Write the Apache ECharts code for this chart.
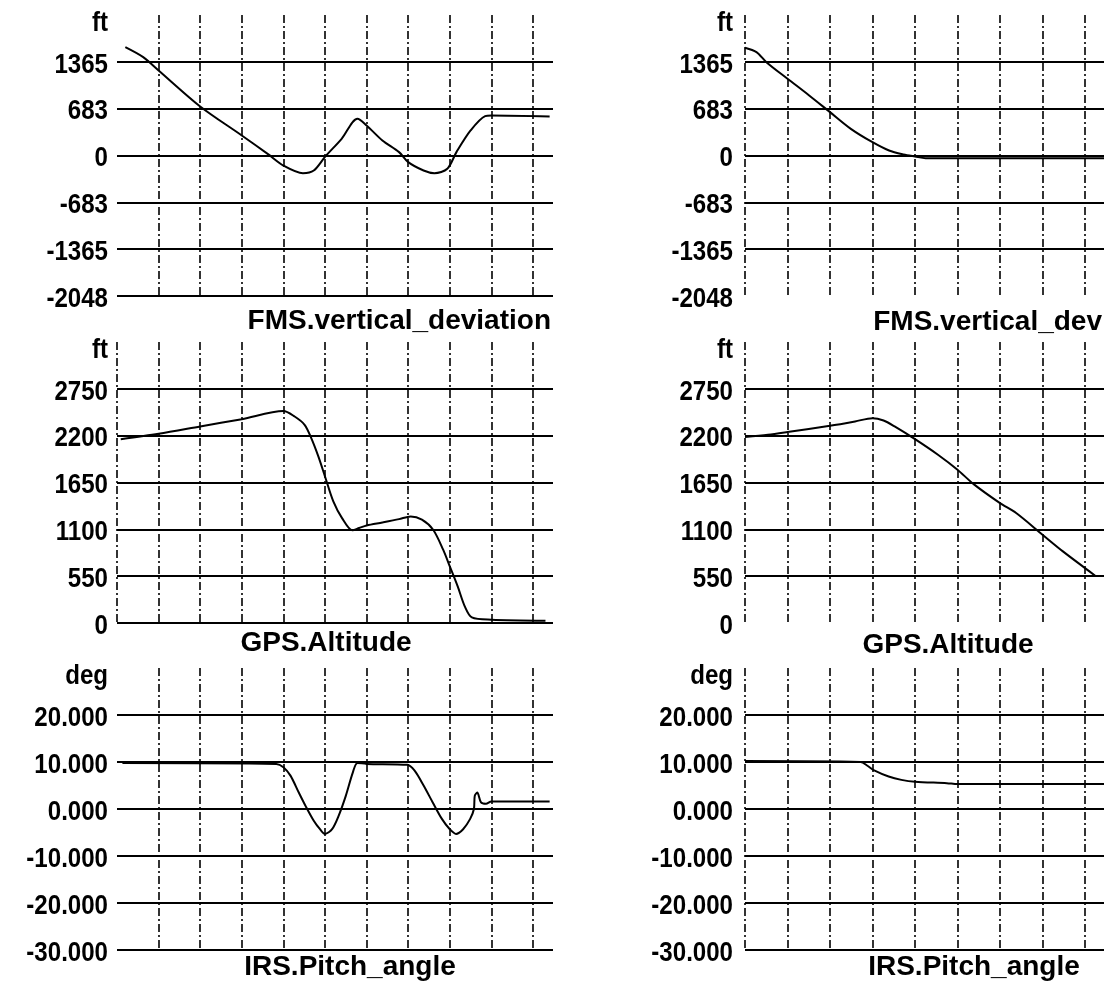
<!DOCTYPE html>
<html>
<head>
<meta charset="utf-8">
<script src="https://cdn.jsdelivr.net/npm/echarts@6/dist/echarts.min.js"></script>
<style>
html,body{margin:0;padding:0;background:#fff;}
#c{width:1104px;height:987px;}
</style>
</head>
<body>
<div id="c"></div>
<script>
// ---- data (x in grid-division units, y in engineering units) ----
const fmsLeftX = [0.2, 0.63, 1, 2, 3, 3.63, 4, 4.47, 4.73, 5, 5.4, 5.78, 6, 6.38, 6.78, 7, 7.37, 7.63, 7.94, 8.16, 8.5, 8.85, 9, 10.4];
const fmsLeftY = [1580, 1434, 1240, 715, 292, 20, -146, -258, -219, -20, 243, 535, 438, 219, 49, -97, -219, -258, -194, 49, 365, 574, 583, 569];

const fmsRightX = [0, 0.27, 0.51, 1, 1.51, 2, 2.49, 3, 3.39, 3.73, 4, 4.25, 8.45];
const fmsRightY = [1571, 1507, 1357, 1119, 875, 632, 389, 194, 73, 15, -15, -40, -40];

const gpsLeftX = [0.09, 1, 2, 3, 4, 4.27, 4.51, 4.67, 4.84, 5, 5.2, 5.41, 5.66, 5.82, 6, 6.38, 6.78, 7.06, 7.33, 7.6, 7.84, 8, 8.19, 8.36, 8.53, 9, 10.3];
const gpsLeftY = [2159, 2222, 2308, 2394, 2490, 2425, 2328, 2171, 1956, 1721, 1428, 1232, 1088, 1115, 1146, 1181, 1220, 1252, 1213, 1095, 861, 665, 430, 196, 66, 39, 27];

const gpsRightX = [0, 0.54, 1, 2, 2.59, 3, 3.26, 3.52, 4, 4.54, 5, 5.38, 6, 6.38, 7, 7.48, 8, 8.24];
const gpsRightY = [2183, 2210, 2242, 2316, 2367, 2406, 2378, 2308, 2159, 1976, 1800, 1631, 1408, 1291, 1037, 841, 645, 555];

const irsLeftX = [0.13, 3.83, 4, 4.17, 4.37, 4.53, 4.73, 4.88, 5, 5.17, 5.33, 5.5, 5.67, 5.78, 6, 6.98, 7.15, 7.37, 7.59, 7.81, 8, 8.15, 8.32, 8.49, 8.58, 8.6, 8.66, 8.75, 8.87, 9, 10.4];
const irsLeftY = [9.8, 9.6, 8.9, 7.1, 3.5, 0.7, -2.5, -4.3, -5.3, -4.3, -1.4, 2.8, 7.8, 9.8, 9.6, 9.4, 8.2, 5.0, 1.4, -2.1, -4.3, -5.3, -4.3, -2.1, 0, 2.8, 3.5, 1.4, 1.1, 1.6, 1.6];

const irsRightX = [0, 2.72, 2.88, 3.04, 3.38, 3.68, 4, 4.75, 5, 8.45];
const irsRightY = [10.2, 10, 9.2, 8.2, 6.9, 6.2, 5.8, 5.5, 5.3, 5.3];

// tick labels (bottom to top; last entry is the unit shown at the top of the axis)
const fmsTickLabels = ['-2048', '-1365', '-683', '0', '683', '1365', 'ft'];
const gpsTickLabels = ['0', '550', '1100', '1650', '2200', '2750', 'ft'];
const irsTickLabels = ['-30.000', '-20.000', '-10.000', '0.000', '10.000', '20.000', 'deg'];

// axis ranges
const fmsAxis = { min: -2048, max: 2048, interval: 682.6667 };
const gpsAxis = { min: 0, max: 3300, interval: 550 };
const irsAxis = { min: -30, max: 30, interval: 10 };

const titles = [
  'FMS.vertical_deviation', 'FMS.vertical_dev',
  'GPS.Altitude', 'GPS.Altitude',
  'IRS.Pitch_angle', 'IRS.Pitch_angle'
];

// ---- layout ----
const LEFT_X = 117, LEFT_W = 436, LEFT_UNIT = 41.6;
const RIGHT_X = 745, RIGHT_W = 359, RIGHT_UNIT = 42.5;
const ROW_TOP = [15, 342, 668];
const ROW_H = [281, 281, 282];

const panels = [
  { xs: fmsLeftX, ys: fmsLeftY, ax: fmsAxis, ticks: fmsTickLabels, side: 'L', row: 0, vMin: false, hMin: true },
  { xs: fmsRightX, ys: fmsRightY, ax: fmsAxis, ticks: fmsTickLabels, side: 'R', row: 0, vMin: true, hMin: false },
  { xs: gpsLeftX, ys: gpsLeftY, ax: gpsAxis, ticks: gpsTickLabels, side: 'L', row: 1, vMin: true, hMin: true },
  { xs: gpsRightX, ys: gpsRightY, ax: gpsAxis, ticks: gpsTickLabels, side: 'R', row: 1, vMin: true, hMin: false },
  { xs: irsLeftX, ys: irsLeftY, ax: irsAxis, ticks: irsTickLabels, side: 'L', row: 2, vMin: false, hMin: true },
  { xs: irsRightX, ys: irsRightY, ax: irsAxis, ticks: irsTickLabels, side: 'R', row: 2, vMin: true, hMin: true }
];

const INK = '#000';

const grid = [], xAxis = [], yAxis = [], series = [];
panels.forEach((p, i) => {
  const isL = p.side === 'L';
  const left = isL ? LEFT_X : RIGHT_X;
  const width = isL ? LEFT_W : RIGHT_W;
  const unit = isL ? LEFT_UNIT : RIGHT_UNIT;
  grid.push({ left: left, top: ROW_TOP[p.row], width: width, height: ROW_H[p.row], containLabel: false });
  xAxis.push({
    type: 'value', gridIndex: i, min: 0, max: +(width / unit).toFixed(3), interval: 1,
    axisLine: { show: false }, axisTick: { show: false }, axisLabel: { show: false },
    splitLine: { show: true, showMinLine: p.vMin, showMaxLine: false,
      lineStyle: { color: INK, width: 1.6, type: [8, 3, 2, 3] } }
  });
  const ax = p.ax;
  yAxis.push({
    type: 'value', gridIndex: i, min: ax.min, max: ax.max, interval: ax.interval,
    axisLine: { show: false }, axisTick: { show: false }, axisLabel: { show: false },
    splitLine: { show: true, showMinLine: p.hMin, showMaxLine: false,
      lineStyle: { color: INK, width: 2, type: 'solid' } }
  });
  series.push({
    type: 'line', xAxisIndex: i, yAxisIndex: i, showSymbol: false, smooth: 0.3,
    lineStyle: { color: INK, width: 2 },
    data: p.xs.map((x, k) => [x, p.ys[k]]),
    animation: false
  });
});

const chart = echarts.init(document.getElementById('c'), null, { renderer: 'canvas' });
chart.setOption({
  backgroundColor: '#fff',
  animation: false,
  grid: grid, xAxis: xAxis, yAxis: yAxis, series: series
});

// ---- text: titles and narrow bold tick labels placed through the axis scales ----
const titleFont = 'bold 28px "Liberation Sans", Arial, sans-serif';
const labelFontStr = 'bold 28px "Liberation Sans", Arial, sans-serif';
const titlePos = [
  { x: 551, y: 321, align: 'right' },
  { x: 1102, y: 322, align: 'right' },
  { x: 326, y: 643, align: 'center' },
  { x: 948, y: 645, align: 'center' },
  { x: 350, y: 967, align: 'center' },
  { x: 974, y: 967, align: 'center' }
];
const graphic = titles.map((t, i) => ({
  type: 'text', x: titlePos[i].x, y: titlePos[i].y, silent: true,
  style: { text: t, font: titleFont, fill: '#000', align: titlePos[i].align, verticalAlign: 'middle' }
}));

panels.forEach((p, i) => {
  const isL = p.side === 'L';
  const rightEdge = isL ? 108 : 733;
  p.ticks.forEach((lab, k) => {
    const v = p.ax.min + k * p.ax.interval;
    const py = chart.convertToPixel({ yAxisIndex: i }, Math.min(v, p.ax.max));
    const isUnit = k === p.ticks.length - 1;
    graphic.push({
      type: 'text', x: rightEdge, y: py + (isUnit ? 8 : 3), scaleX: 0.86, silent: true,
      style: { text: lab, font: labelFontStr, fill: '#000', align: 'right', verticalAlign: 'middle' }
    });
  });
});

chart.setOption({ graphic: graphic });
</script>
</body>
</html>
